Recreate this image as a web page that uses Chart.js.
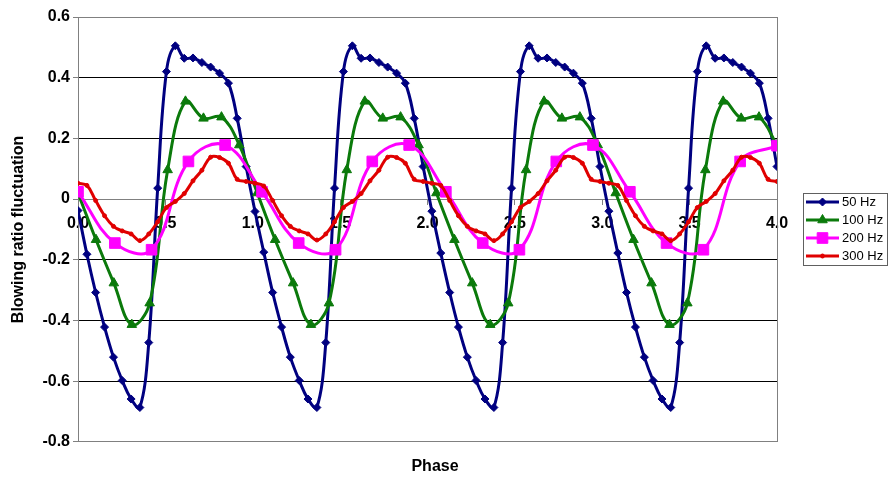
<!DOCTYPE html>
<html>
<head>
<meta charset="utf-8">
<script src="https://cdn.jsdelivr.net/npm/chart.js@4.4.0/dist/chart.umd.min.js"></script>
<style>
  html, body { margin: 0; padding: 0; background: #fff; }
  #wrap { width: 889px; height: 480px; }
</style>
</head>
<body>
<div id="wrap"><canvas id="chart"></canvas></div>
<script>
// phase samples (50 Hz and 300 Hz share the fine grid)
const phaseFine = [
  0.000, 0.051, 0.101, 0.152, 0.203, 0.253, 0.304, 0.354, 0.405, 0.456,
  0.506, 0.557, 0.608, 0.658, 0.709, 0.759, 0.810, 0.861, 0.911, 0.962,
  1.013, 1.063, 1.114, 1.165, 1.215, 1.266, 1.316, 1.367, 1.418, 1.468,
  1.519, 1.570, 1.620, 1.671, 1.722, 1.772, 1.823, 1.873, 1.924, 1.975,
  2.025, 2.076, 2.127, 2.177, 2.228, 2.278, 2.329, 2.380, 2.430, 2.481,
  2.532, 2.582, 2.633, 2.684, 2.734, 2.785, 2.835, 2.886, 2.937, 2.987,
  3.038, 3.089, 3.139, 3.190, 3.241, 3.291, 3.342, 3.392, 3.443, 3.494,
  3.544, 3.595, 3.646, 3.696, 3.747, 3.797, 3.848, 3.899, 3.949, 4.000
];
const phase100 = [
  0.000, 0.103, 0.205, 0.308, 0.410, 0.513, 0.615, 0.718, 0.821, 0.923,
  1.026, 1.128, 1.231, 1.333, 1.436, 1.538, 1.641, 1.744, 1.846, 1.949,
  2.051, 2.154, 2.256, 2.359, 2.462, 2.564, 2.667, 2.769, 2.872, 2.974,
  3.077, 3.179, 3.282, 3.385, 3.487, 3.590, 3.692, 3.795, 3.897, 4.000
];
const phase200 = [
  0.000, 0.211, 0.421, 0.632, 0.842, 1.053, 1.263, 1.474, 1.684, 1.895,
  2.105, 2.316, 2.526, 2.737, 2.947, 3.158, 3.368, 3.579, 3.789, 4.000
];

const ratio50 = [
  -0.038, -0.182, -0.308, -0.422, -0.521, -0.598, -0.659, -0.687, -0.473, 0.036,
  0.420, 0.505, 0.464, 0.465, 0.450, 0.435, 0.415, 0.382, 0.266, 0.107,
  -0.041, -0.175, -0.308, -0.422, -0.521, -0.598, -0.659, -0.687, -0.473, 0.036,
  0.420, 0.505, 0.464, 0.465, 0.450, 0.435, 0.415, 0.382, 0.266, 0.107,
  -0.040, -0.178, -0.308, -0.422, -0.521, -0.598, -0.659, -0.687, -0.473, 0.036,
  0.420, 0.505, 0.464, 0.465, 0.450, 0.435, 0.415, 0.382, 0.266, 0.107,
  -0.040, -0.178, -0.308, -0.422, -0.521, -0.598, -0.659, -0.687, -0.473, 0.036,
  0.420, 0.505, 0.464, 0.465, 0.450, 0.435, 0.415, 0.382, 0.266, 0.107
];
const ratio100 = [
  0.020, -0.134, -0.277, -0.414, -0.343, 0.096, 0.322, 0.266, 0.270, 0.178,
  0.020, -0.134, -0.277, -0.414, -0.343, 0.096, 0.322, 0.266, 0.270, 0.178,
  0.020, -0.134, -0.277, -0.414, -0.343, 0.096, 0.322, 0.266, 0.270, 0.178,
  0.020, -0.134, -0.277, -0.414, -0.343, 0.096, 0.322, 0.266, 0.270, 0.178
];
const ratio200 = [
  0.024, -0.145, -0.167, 0.124, 0.178,
  0.024, -0.145, -0.167, 0.124, 0.178,
  0.024, -0.145, -0.167, 0.124, 0.178,
  0.024, -0.145, -0.167, 0.124, 0.176
];
const ratio300 = [
  0.052, 0.045, -0.005, -0.055, -0.090, -0.105, -0.115, -0.137, -0.115, -0.075,
  -0.028, -0.008, 0.018, 0.060, 0.095, 0.138, 0.137, 0.118, 0.065, 0.058,
  0.052, 0.043, -0.005, -0.055, -0.090, -0.105, -0.115, -0.135, -0.115, -0.075,
  -0.028, -0.008, 0.018, 0.060, 0.095, 0.138, 0.137, 0.118, 0.065, 0.058,
  0.052, 0.045, -0.005, -0.055, -0.090, -0.105, -0.115, -0.137, -0.115, -0.075,
  -0.028, -0.008, 0.018, 0.060, 0.095, 0.138, 0.137, 0.118, 0.065, 0.058,
  0.052, 0.045, -0.005, -0.055, -0.090, -0.105, -0.115, -0.137, -0.115, -0.075,
  -0.028, -0.008, 0.018, 0.060, 0.095, 0.138, 0.137, 0.118, 0.065, 0.058
];

const seriesNames = ['50 Hz', '100 Hz', '200 Hz', '300 Hz'];
const yTicks = [-0.8, -0.6, -0.4, -0.2, 0, 0.2, 0.4, 0.6];
const xTicks = [0, 0.5, 1.0, 1.5, 2.0, 2.5, 3.0, 3.5, 4.0];

Chart.defaults.font.family = '"Liberation Sans", Arial, sans-serif';
Chart.defaults.color = '#000';

function pairs(xs, ys) {
    return xs.map((x, i) => ({ x: x, y: ys[i] }));
}

function makeSet(label, xs, ys, color, style, radius, order) {
    return {
        label: label,
        data: pairs(xs, ys),
        borderColor: color,
        backgroundColor: color,
        borderWidth: 3,
        pointStyle: style,
        pointRadius: radius,
        pointBorderWidth: 1,
        pointBackgroundColor: color,
        pointBorderColor: color,
        tension: 0.4,
        showLine: true,
        order: order
    };
}

// legend drawn in the space right of the plot, like the original
const sideLegend = {
    id: 'sideLegend',
    afterDraw(chart) {
        const ctx = chart.ctx;
        const box = { x: 803, y: 193, w: 84, h: 72 };
        ctx.save();
        ctx.strokeStyle = '#606060';
        ctx.lineWidth = 1;
        ctx.strokeRect(box.x + 0.5, box.y + 0.5, box.w, box.h);
        ctx.font = '13px "Liberation Sans", Arial, sans-serif';
        ctx.textBaseline = 'middle';
        chart.data.datasets.forEach((ds, i) => {
            const y = 202 + i * 18;
            ctx.strokeStyle = ds.borderColor;
            ctx.fillStyle = ds.borderColor;
            ctx.lineWidth = 3;
            ctx.beginPath();
            ctx.moveTo(806, y);
            ctx.lineTo(839, y);
            ctx.stroke();
            ctx.lineWidth = 1;
            Chart.helpers.drawPoint(ctx, { pointStyle: ds.pointStyle, radius: ds.pointRadius, rotation: 0, borderWidth: 1 }, 822.5, y);
            ctx.fillStyle = '#000';
            ctx.fillText(ds.label, 842, y + 0.5);
        });
        ctx.restore();
    }
};

const ctx = document.getElementById('chart').getContext('2d');
new Chart(ctx, {
    type: 'scatter',
    data: {
        datasets: [
            makeSet(seriesNames[0], phaseFine, ratio50, '#000080', 'rectRot', 4, 4),
            makeSet(seriesNames[1], phase100, ratio100, '#0b7a0b', 'triangle', 5.5, 3),
            makeSet(seriesNames[2], phase200, ratio200, '#ff00ff', 'rect', 7.5, 2),
            makeSet(seriesNames[3], phaseFine, ratio300, '#e00000', 'circle', 2, 1)
        ]
    },
    options: {
        responsive: true,
        maintainAspectRatio: false,
        animation: false,
        layout: { padding: { left: 0, right: 19, top: 17, bottom: 0 } },
        plugins: {
            legend: { display: false },
            tooltip: { enabled: false },
            title: {
                display: true,
                text: 'Phase',
                position: 'bottom',
                font: { size: 16, weight: 'bold' },
                color: '#000',
                padding: { top: 15, bottom: 4 }
            }
        },
        scales: {
            x: {
                type: 'linear',
                min: 0,
                max: 4,
                position: { y: 0 },
                afterBuildTicks: s => { s.ticks = xTicks.map(v => ({ value: v })); },
                ticks: {
                    font: { size: 16, weight: 'bold' },
                    color: '#000',
                    padding: 10,
                    maxRotation: 0,
                    autoSkip: false,
                    callback: v => v.toFixed(1)
                },
                grid: { drawOnChartArea: false, tickLength: 5, tickColor: '#808080' },
                border: { color: '#808080', width: 1 }
            },
            y: {
                min: -0.8,
                max: 0.6,
                afterBuildTicks: s => { s.ticks = yTicks.map(v => ({ value: v })); },
                afterFit: s => { s.width = 78; },
                ticks: {
                    font: { size: 16, weight: 'bold' },
                    color: '#000',
                    padding: 3,
                    callback: v => (Math.abs(v) < 1e-9 ? '0' : v.toFixed(1))
                },
                grid: {
                    color: c => {
                        const v = c.tick ? c.tick.value : 0;
                        if (Math.abs(v) < 1e-9 || v <= -0.79 || v >= 0.59) return '#808080';
                        return '#000';
                    },
                    lineWidth: 1,
                    tickLength: 5,
                    tickColor: '#808080'
                },
                border: { color: '#808080', width: 1 },
                title: {
                    display: true,
                    text: 'Blowing ratio fluctuation',
                    font: { size: 16, weight: 'bold' },
                    color: '#000',
                    padding: { top: 9, bottom: 0 }
                }
            },
            y2: {
                position: 'right',
                min: -0.8,
                max: 0.6,
                afterFit: s => { s.width = 93; },
                ticks: { display: false },
                grid: { display: false },
                border: { color: '#808080', width: 1 }
            }
        }
    },
    plugins: [sideLegend]
});
</script>
</body>
</html>
